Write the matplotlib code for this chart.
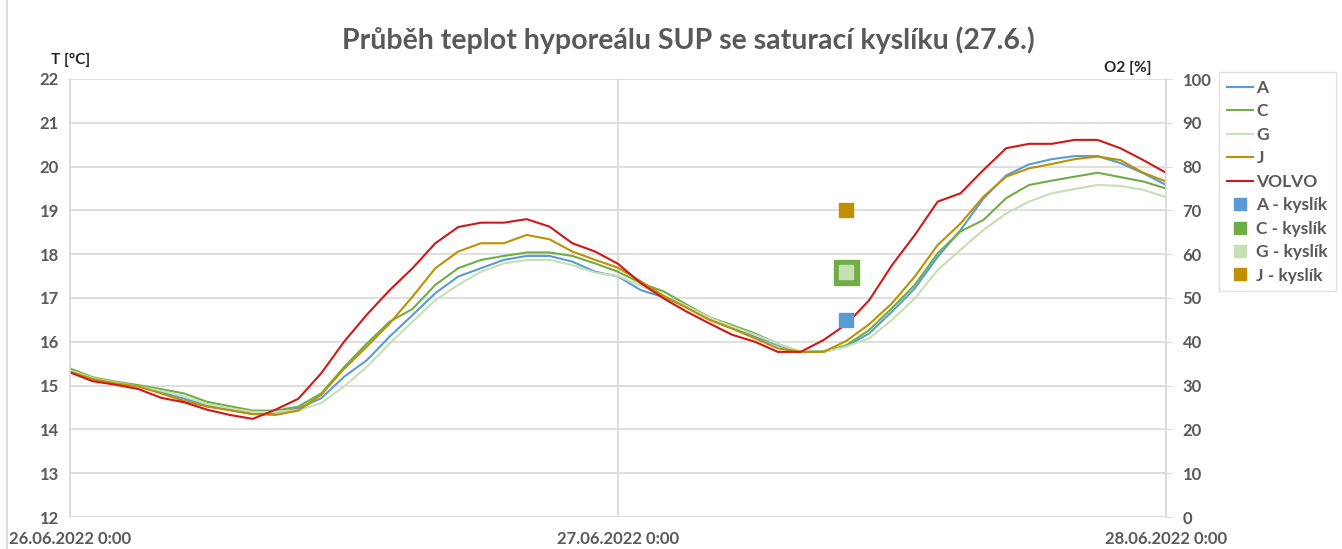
import matplotlib
matplotlib.use('Agg')
import matplotlib.pyplot as plt
from datetime import datetime, timedelta

plt.rcParams['font.family'] = ['Lato', 'DejaVu Sans']

# hourly readings 26.06.2022 0:00 .. 28.06.2022 0:00
start = datetime(2022, 6, 26)
times = [start + timedelta(hours=h) for h in range(49)]

temp_A = [15.35, 15.15, 15.05, 14.98, 14.85, 14.70, 14.55, 14.44, 14.35, 14.38,
          14.48, 14.71, 15.20, 15.58, 16.12, 16.61, 17.11, 17.49, 17.68, 17.87,
          17.96, 17.96, 17.83, 17.60, 17.49, 17.18, 17.02, 16.80, 16.52, 16.32,
          16.12, 15.92, 15.77, 15.77, 15.90, 16.19, 16.69, 17.22, 17.94, 18.55,
          19.27, 19.80, 20.05, 20.17, 20.24, 20.24, 20.08, 19.85, 19.58]
temp_C = [15.39, 15.19, 15.09, 15.01, 14.92, 14.82, 14.63, 14.53, 14.43, 14.43,
          14.52, 14.82, 15.42, 15.96, 16.46, 16.75, 17.30, 17.68, 17.87, 17.96,
          18.04, 18.04, 17.96, 17.79, 17.60, 17.34, 17.15, 16.85, 16.56, 16.38,
          16.19, 15.95, 15.77, 15.78, 15.92, 16.27, 16.77, 17.30, 18.02, 18.52,
          18.78, 19.28, 19.58, 19.68, 19.77, 19.86, 19.76, 19.66, 19.50]
temp_G = [15.35, 15.17, 15.07, 14.98, 14.88, 14.75, 14.58, 14.48, 14.40, 14.40,
          14.44, 14.60, 14.98, 15.43, 15.96, 16.46, 16.95, 17.30, 17.60, 17.79,
          17.87, 17.87, 17.75, 17.58, 17.50, 17.28, 17.05, 16.82, 16.55, 16.35,
          16.16, 15.95, 15.77, 15.77, 15.89, 16.08, 16.50, 16.99, 17.64, 18.10,
          18.55, 18.93, 19.20, 19.39, 19.49, 19.58, 19.56, 19.47, 19.30]
temp_J = [15.32, 15.15, 15.05, 14.98, 14.82, 14.65, 14.52, 14.44, 14.35, 14.33,
          14.43, 14.79, 15.38, 15.89, 16.42, 17.03, 17.68, 18.06, 18.25, 18.25,
          18.44, 18.34, 18.06, 17.87, 17.69, 17.38, 17.05, 16.78, 16.50, 16.30,
          16.08, 15.85, 15.77, 15.77, 16.02, 16.40, 16.88, 17.49, 18.21, 18.70,
          19.31, 19.77, 19.96, 20.06, 20.17, 20.23, 20.15, 19.86, 19.66]
temp_VOLVO = [15.30, 15.10, 15.02, 14.92, 14.72, 14.62, 14.45, 14.33, 14.24, 14.45,
              14.70, 15.28, 16.00, 16.62, 17.18, 17.68, 18.25, 18.62, 18.72, 18.72,
              18.80, 18.63, 18.25, 18.06, 17.78, 17.34, 16.99, 16.69, 16.42, 16.16,
              16.00, 15.77, 15.77, 16.04, 16.40, 16.95, 17.75, 18.44, 19.20, 19.39,
              19.92, 20.42, 20.52, 20.52, 20.61, 20.61, 20.42, 20.15, 19.86]

# oxygen saturation measured once (27.6. 10:00)
o2_time = datetime(2022, 6, 27, 10)
o2_A = 45
o2_C = 56
o2_G = 56
o2_J = 70

x_ticks = [datetime(2022, 6, 26), datetime(2022, 6, 27), datetime(2022, 6, 28)]
x_labels = ['26.06.2022 0:00', '27.06.2022 0:00', '28.06.2022 0:00']

col_A = '#5B9BD5'
col_C = '#70AD47'
col_G = '#C5E0B4'
col_J = '#BF9000'
col_V = '#D01818'
grid_c = '#D9D9D9'
txt_c = '#595959'

fig = plt.figure(figsize=(13.42, 5.49), dpi=100)
ax = fig.add_axes([70/1342, 1-517/549, 1096/1342, 438/549])
ax2 = ax.twinx()

ax.plot(times, temp_A, color=col_A, lw=1.5, label='A')
ax.plot(times, temp_C, color=col_C, lw=1.5, label='C')
ax.plot(times, temp_G, color=col_G, lw=1.5, label='G')
ax.plot(times, temp_J, color=col_J, lw=1.5, label='J')
ax.plot(times, temp_VOLVO, color=col_V, lw=1.5, label='VOLVO')

ax2.plot([o2_time], [o2_A], 's', color=col_A, ms=10, label='A - kyslík')
ax2.plot([o2_time], [o2_C], 's', color=col_C, ms=18, label='C - kyslík')
ax2.plot([o2_time], [o2_G], 's', color=col_G, ms=10, label='G - kyslík')
ax2.plot([o2_time], [o2_J], 's', color=col_J, ms=10, label='J - kyslík')

ax.set_xlim(x_ticks[0], x_ticks[-1])
ax.set_ylim(12, 22)
ax.set_yticks(range(12, 23))
ax2.set_ylim(0, 100)
ax2.set_yticks(range(0, 101, 10))
ax.set_xticks(x_ticks)
ax.set_xticklabels(x_labels)

ax.grid(True, axis='both', color=grid_c, lw=1.2)
ax.set_axisbelow(True)
for a in (ax, ax2):
    for s in a.spines.values():
        s.set_visible(False)
ax2.spines['right'].set_visible(True)
ax2.spines['right'].set_color(grid_c)
ax2.spines['right'].set_linewidth(1.2)
ax.spines['left'].set_visible(True)
ax.spines['left'].set_color(grid_c)
ax.spines['left'].set_linewidth(1.2)

ax.tick_params(axis='y', length=0, pad=8, labelsize=12, labelcolor=txt_c)
ax.tick_params(axis='x', length=0, pad=10, labelsize=12, labelcolor=txt_c)
ax2.tick_params(axis='y', length=4, color=grid_c, pad=8, labelsize=12, labelcolor=txt_c)
for lab in ax.get_xticklabels() + ax.get_yticklabels() + ax2.get_yticklabels():
    lab.set_fontweight('bold')

fig.text(688/1342, 1-40/549, 'Průběh teplot hyporeálu SUP se saturací kyslíku (27.6.)',
         ha='center', va='center', fontsize=20.5, fontweight='bold', color=txt_c)
fig.text(71/1342, 1-60/549, 'T [°C]', ha='center', va='center', fontsize=11,
         fontweight='bold', color='#262626')
fig.text(1128/1342, 1-68/549, 'O2 [%]', ha='center', va='center', fontsize=11,
         fontweight='bold', color='#262626')

h1, l1 = ax.get_legend_handles_labels()
h2, l2 = ax2.get_legend_handles_labels()
leg = fig.legend(h1 + h2, l1 + l2, loc='upper left',
                 bbox_to_anchor=(1219/1342, 1-72/549), borderaxespad=0,
                 frameon=True, fancybox=False, edgecolor=grid_c, fontsize=12.5,
                 handlelength=1.5, handletextpad=0.2, labelspacing=0.43,
                 borderpad=0.45)
leg.get_frame().set_linewidth(1.0)
for hnd in leg.legend_handles[5:]:
    hnd.set_markersize(8)
for t in leg.get_texts():
    t.set_color(txt_c)
    t.set_fontweight('bold')

# chart area border (left edge visible in source)
fig.add_artist(plt.Line2D([7/1342, 7/1342], [0, 1], color=grid_c, lw=1.2,
                          transform=fig.transFigure))

fig.savefig('out.png', dpi=100)
